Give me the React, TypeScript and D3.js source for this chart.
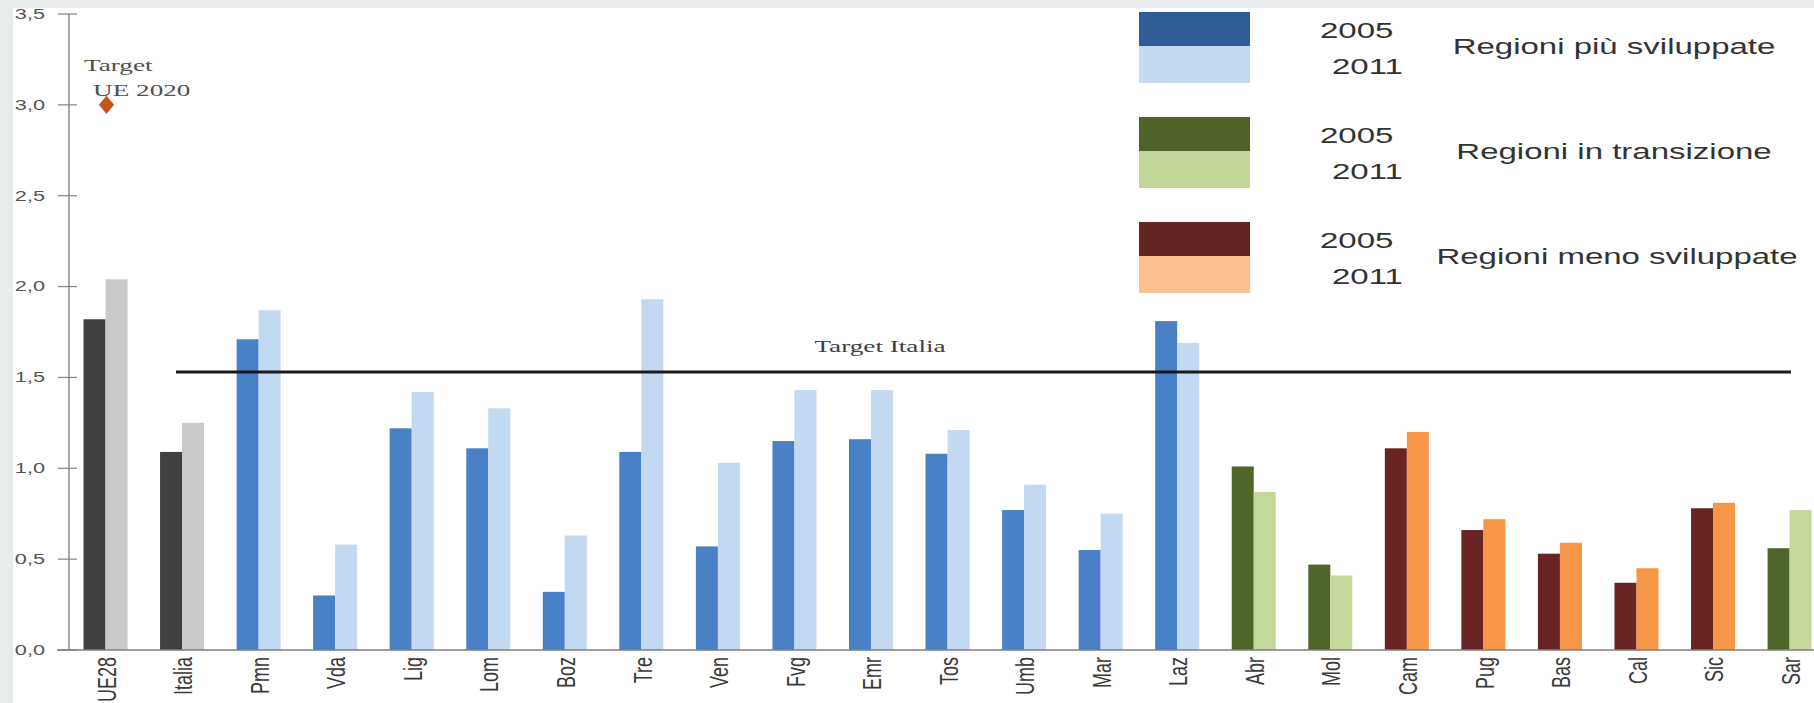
import React from 'react';
import * as d3 from 'd3';

const categories = ['UE28', 'Italia', 'Pmn', 'Vda', 'Lig', 'Lom', 'Boz', 'Tre', 'Ven', 'Fvg', 'Emr', 'Tos', 'Umb', 'Mar', 'Laz', 'Abr', 'Mol', 'Cam', 'Pug', 'Bas', 'Cal', 'Sic', 'Sar'];
const categoryGroup = ['ref', 'ref', 'more', 'more', 'more', 'more', 'more', 'more', 'more', 'more', 'more', 'more', 'more', 'more', 'more', 'trans', 'trans', 'less', 'less', 'less', 'less', 'less', 'trans'];
const values2005 = [1.82, 1.09, 1.71, 0.30, 1.22, 1.11, 0.32, 1.09, 0.57, 1.15, 1.16, 1.08, 0.77, 0.55, 1.81, 1.01, 0.47, 1.11, 0.66, 0.53, 0.37, 0.78, 0.56];
const values2011 = [2.04, 1.25, 1.87, 0.58, 1.42, 1.33, 0.63, 1.93, 1.03, 1.43, 1.43, 1.21, 0.91, 0.75, 1.69, 0.87, 0.41, 1.20, 0.72, 0.59, 0.45, 0.81, 0.77];
const years = ['2005', '2011'];
const yTicks = [0, 0.5, 1.0, 1.5, 2.0, 2.5, 3.0, 3.5];
const targetItalia = 1.53;
const targetUE = 3.0;
const legendKeys = ['more', 'trans', 'less'];
const legendLabels = ['Regioni più sviluppate', 'Regioni in transizione', 'Regioni meno sviluppate'];

const barColors: Record<string, string[]> = {
  ref: ['#404040', '#c9c9c9'],
  more: ['#4a80c6', '#c3d8f1'],
  trans: ['#50652a', '#c4d89c'],
  less: ['#6a2323', '#f79646'],
};
const legendColors: Record<string, string[]> = {
  more: ['#2f5d98', '#c5d9f1'],
  trans: ['#4f6228', '#c4d79b'],
  less: ['#632523', '#fac090'],
};

const W = 1814;
const H = 703;
const SX = 1.55;

export default function App() {
  const y = d3.scaleLinear().domain([0, 3.5]).range([650, 14]);
  const x = d3.scaleBand<string>().domain(categories).range([68.2, 1826.9]).paddingInner(0.425).paddingOuter(0.2);
  const xs = d3.scaleBand<string>().domain(years).range([0, x.bandwidth()]);
  const fmt = d3.formatLocale({ decimal: ',', thousands: '.', grouping: [3], currency: ['€', ''] }).format('.1f');
  const diamond = d3.symbol().type(d3.symbolDiamond).size(120)();
  const cx = (c: string) => (x(c) as number) + x.bandwidth() / 2;

  const legendY = [12, 117, 222];
  const legendH = [34, 35];

  return (
    <svg width={W} height={H} style={{ position: 'fixed', left: 0, top: 0, display: 'block' }}>
      <rect x={0} y={0} width={W} height={H} fill="#e8ecec" />
      <rect x={13} y={8} width={W - 13} height={H - 8} fill="#ffffff" />

      {/* y axis */}
      <line x1={69} x2={69} y1={y(3.5)} y2={y(0)} stroke="#8a8a8a" strokeWidth={1.5} />
      {yTicks.map((t) => (
        <g key={t}>
          <line x1={58} x2={77} y1={y(t)} y2={y(t)} stroke="#8a8a8a" strokeWidth={1.3} />
          <text
            transform={`translate(45,${y(t)}) scale(${SX},1)`}
            textAnchor="end"
            dy="0.35em"
            fontFamily="'Liberation Sans', Arial, sans-serif"
            fontSize={14}
            fill="#555555"
          >
            {fmt(t)}
          </text>
        </g>
      ))}

      {/* bars */}
      {categories.map((c, i) => {
        const cols = barColors[categoryGroup[i]];
        const vals = [values2005[i], values2011[i]];
        return (
          <g key={c}>
            {years.map((yr, j) => (
              <rect
                key={yr}
                x={(x(c) as number) + (xs(yr) as number)}
                y={y(vals[j])}
                width={xs.bandwidth()}
                height={y(0) - y(vals[j])}
                fill={cols[j]}
              />
            ))}
          </g>
        );
      })}

      {/* x axis */}
      <line x1={57} x2={W} y1={y(0)} y2={y(0)} stroke="#7f7f7f" strokeWidth={1.5} />
      {categories.map((c) => (
        <text
          key={c}
          transform={`translate(${cx(c) + 1},657) scale(1.45,1) rotate(-90)`}
          textAnchor="end"
          dy="0.35em"
          fontFamily="'Liberation Sans', Arial, sans-serif"
          fontSize={18}
          fill="#3a3a3a"
        >
          {c}
        </text>
      ))}

      {/* Target Italia */}
      <line x1={176} x2={1791} y1={y(targetItalia)} y2={y(targetItalia)} stroke="#1a1a1a" strokeWidth={3} />
      <text
        transform={`translate(880,352) scale(1.6,1)`}
        textAnchor="middle"
        fontFamily="'Liberation Serif', 'Times New Roman', serif"
        fontSize={17}
        fill="#404040"
      >
        Target Italia
      </text>

      {/* Target UE 2020 */}
      <path d={diamond || ''} transform={`translate(${cx('UE28') + 1},${y(targetUE)}) scale(1.3,0.9)`} fill="#c4561b" />
      <text transform={`translate(84,71) scale(1.6,1)`} fontFamily="'Liberation Serif', 'Times New Roman', serif" fontSize={17} fill="#505050">
        Target
      </text>
      <text transform={`translate(93,96) scale(1.6,1)`} fontFamily="'Liberation Serif', 'Times New Roman', serif" fontSize={17} fill="#505050">
        UE 2020
      </text>

      {/* legend */}
      {legendKeys.map((k, i) => {
        const top = legendY[i];
        return (
          <g key={k}>
            <rect x={1139} y={top} width={111} height={legendH[0]} fill={legendColors[k][0]} />
            <rect x={1139} y={top + legendH[0]} width={111} height={legendH[1] + 2} fill={legendColors[k][1]} />
            <text transform={`translate(1320,${top + 26}) scale(1.5,1)`} fontFamily="'Liberation Sans', Arial, sans-serif" fontSize={22} fill="#333">
              {years[0]}
            </text>
            <text transform={`translate(1332,${top + 62}) scale(1.5,1)`} fontFamily="'Liberation Sans', Arial, sans-serif" fontSize={22} fill="#333">
              {years[1]}
            </text>
            <text
              transform={`translate(${i === 2 ? 1617 : 1614},${top + 42}) scale(1.5,1)`}
              textAnchor="middle"
              fontFamily="'Liberation Sans', Arial, sans-serif"
              fontSize={22}
              fill="#333"
            >
              {legendLabels[i]}
            </text>
          </g>
        );
      })}
    </svg>
  );
}
